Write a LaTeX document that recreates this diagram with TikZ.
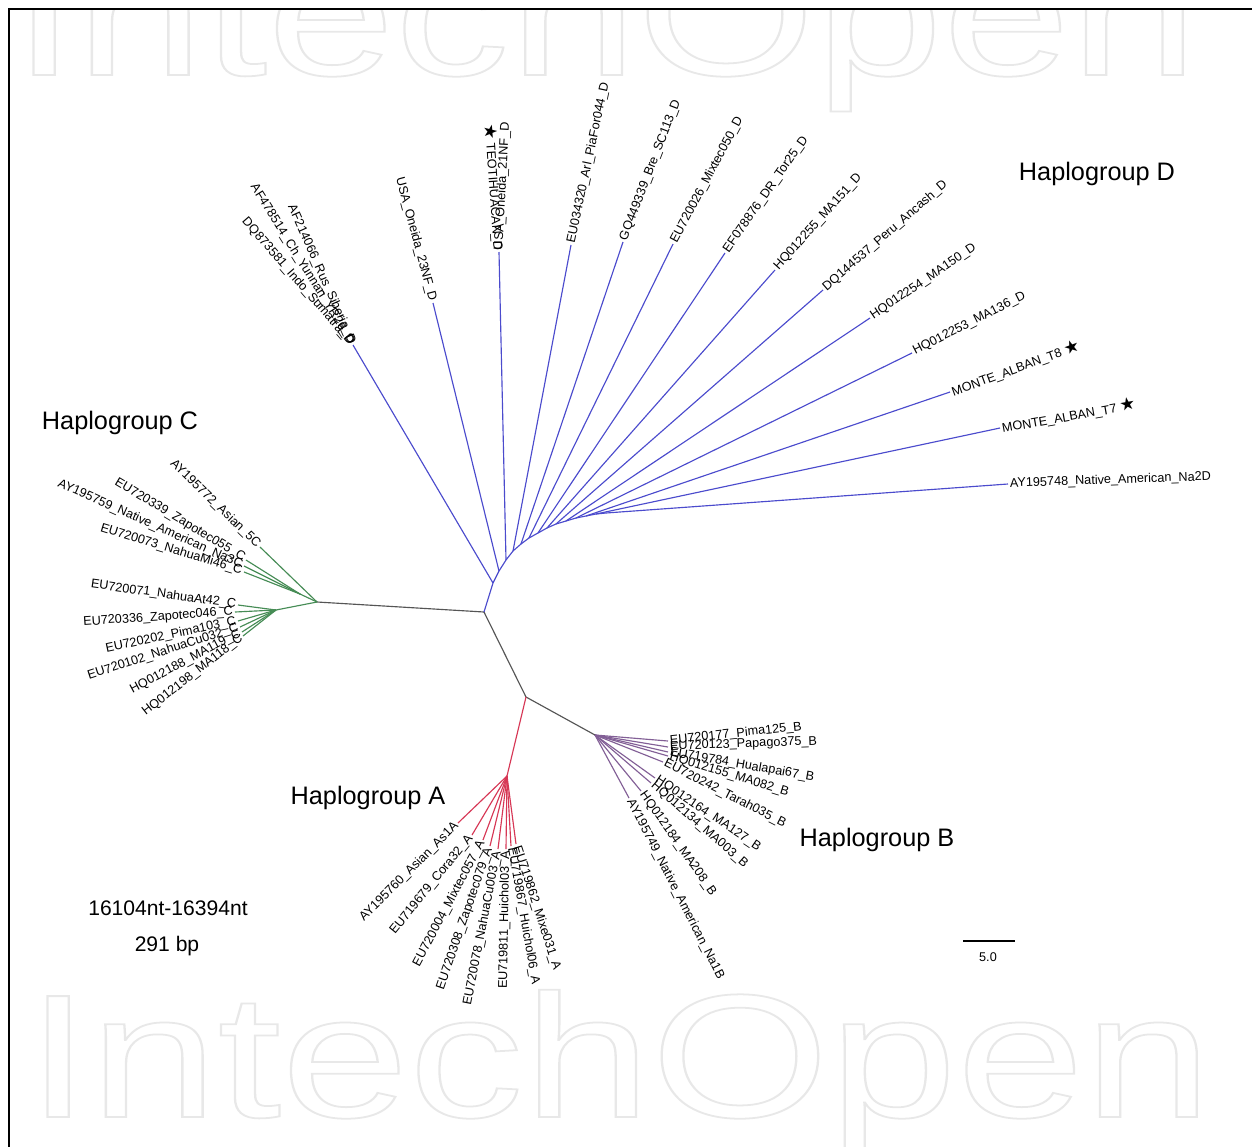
\documentclass[tikz,border=0pt]{standalone}
\usepackage{fontspec}
\setmainfont{Liberation Sans}
\newfontfamily\symf{DejaVu Sans}
\newcommand\mystar{{\symf\fontsize{10}{10}\selectfont ★}}
\newcommand\outlinetext[1]{\special{pdf:literal direct 1 Tr 1.0 w}#1\special{pdf:literal direct 0 Tr}}
\definecolor{dblue}{RGB}{75,75,205}
\definecolor{cgreen}{RGB}{70,140,85}
\definecolor{ared}{RGB}{215,55,85}
\definecolor{bpurple}{RGB}{130,95,150}
\definecolor{stem}{RGB}{85,85,85}
\begin{document}
\begin{tikzpicture}[x=0.02cm,y=-0.02cm,
  lab/.style={font=\fontsize{7.2}{8}\selectfont, inner sep=1pt},
  labR/.style={lab, anchor=west},
  labL/.style={lab, anchor=east},
  hap/.style={font=\fontsize{14.4}{16}\selectfont, inner sep=0pt},
  info/.style={font=\fontsize{12}{14}\selectfont, inner sep=0pt},
  br/.style={line width=0.65pt},
  dline/.style={br, dblue},
  cline/.style={br, cgreen},
  aline/.style={br, ared},
  bline/.style={br, bpurple},
  sline/.style={br, stem},
  wm/.style={font=\fontsize{100}{110}\selectfont, text=black!9, xscale=1.305, inner sep=0pt, anchor=base},
]
\useasboundingbox (0,0) rectangle (1252,1147);
\fill[white] (0,0) rectangle (1252,1147);
% watermark
\begin{scope}
\clip (9,9) rectangle (1252,1147);
\node[wm] (wm1) at (605,75) {\outlinetext{IntechOpen}};
\node[wm] (wm2) at (619,1117) {\outlinetext{IntechOpen}};
\end{scope}
\coordinate (fr1) at (9,1147);
\coordinate (fr2) at (9,9);
\coordinate (fr3) at (1252,9);
\draw[line width=0.9pt] (fr1) -- (fr2) -- (fr3);

% internal nodes
\coordinate (c) at (484,612);
\coordinate (m) at (526,697);
\coordinate (nC) at (317,602);
\coordinate (nC1) at (300,594);
\coordinate (nC2) at (276,610);
\coordinate (nB) at (595,735);
\coordinate (nA) at (507,776);
% D backbone
\coordinate (b1) at (493,583);
\coordinate (b2) at (499,571);
\coordinate (b3) at (506,560);
\coordinate (b4) at (513,551);
\coordinate (b5) at (521,544);
\coordinate (b6) at (529,538);
\coordinate (b7) at (538,533);
\coordinate (b8) at (547,528);
\coordinate (b9) at (556,524);
\coordinate (b10) at (566,521);
\coordinate (b11) at (576,518);
\coordinate (b12) at (586,516);
\coordinate (b13) at (596,514);
\coordinate (b14) at (606,513);
% D tips
\coordinate (tD1) at (353,345);
\coordinate (tD2) at (433,303);
\coordinate (tD3) at (499,252);
\coordinate (tD4) at (571,245);
\coordinate (tD5) at (623,242);
\coordinate (tD6) at (673,244);
\coordinate (tD7) at (725,253);
\coordinate (tD8) at (775,270);
\coordinate (tD9) at (823,290);
\coordinate (tD10) at (870,318);
\coordinate (tD11) at (912,353);
\coordinate (tD12) at (950,392);
\coordinate (tD13) at (1000,428);
\coordinate (tD14) at (1008,484);
% C tips
\coordinate (tC1) at (260,547);
\coordinate (tC2) at (246,560);
\coordinate (tC3) at (244,566);
\coordinate (tC4) at (244,572);
\coordinate (tC5) at (238,605);
\coordinate (tC6) at (235,612);
\coordinate (tC7) at (238,621);
\coordinate (tC8) at (240,627);
\coordinate (tC9) at (242,632);
\coordinate (tC10) at (243,636);
% B tips
\coordinate (tB1) at (668,741);
\coordinate (tB2) at (668,747);
\coordinate (tB3) at (668,752);
\coordinate (tB4) at (668,756);
\coordinate (tB5) at (663,762);
\coordinate (tB6) at (655,778);
\coordinate (tB7) at (651,783);
\coordinate (tB8) at (641,791);
\coordinate (tB9) at (629,798);
% A tips
\coordinate (tA1) at (458,823);
\coordinate (tA2) at (472,835);
\coordinate (tA3) at (483,840);
\coordinate (tA4) at (490,846);
\coordinate (tA5) at (498,849);
\coordinate (tA6) at (506,849);
\coordinate (tA7) at (511,846);
\coordinate (tA8) at (516,844);

% branches
\draw[sline] (nC) -- (c) -- (m) -- (nB);
\draw[dline] (c) -- (b1) -- (b2) -- (b3) -- (b4) -- (b5) -- (b6) -- (b7) -- (b8) -- (b9) -- (b10) -- (b11) -- (b12) -- (b13) -- (b14);
\foreach \i in {1,...,14} \draw[dline] (b\i) -- (tD\i);
\draw[cline] (nC) -- (tC1);
\draw[cline] (nC) -- (nC1);
\draw[cline] (nC) -- (nC2);
\foreach \i in {2,3,4} \draw[cline] (nC1) -- (tC\i);
\foreach \i in {5,...,10} \draw[cline] (nC2) -- (tC\i);
\foreach \i in {1,...,9} \draw[bline] (nB) -- (tB\i);
\draw[aline] (m) -- (nA);
\foreach \i in {1,...,8} \draw[aline] (nA) -- (tA\i);

% D labels
\node[labL, rotate=-66] (lD1a) at (tD1) {AF214066\_Rus\_Siberia\_D};
\node[labL, rotate=-58] (lD1b) at (tD1) {AF478514\_Ch\_Yunnan\_YR26\_D};
\node[labL, rotate=-49] (lD1c) at (tD1) {DQ873581\_Indo\_Sumatra\_D};
\node[labL, rotate=-75] (lD2) at (tD2) {USA\_Oneida\_23NF\_D};
\node[labL, rotate=-86] (lD3a) at (tD3) {\mystar{} TEOTIHUACAN\_D};
\node[labR, rotate=87] (lD3b) at (tD3) {USA\_Oneida\_21NF\_D};
\node[labR, rotate=78] (lD4) at (tD4) {EU034320\_Arl\_PiaFor044\_D};
\node[labR, rotate=69] (lD5) at (tD5) {GQ449339\_Bre\_SC113\_D};
\node[labR, rotate=62] (lD6) at (tD6) {EU720026\_Mixtec050\_D};
\node[labR, rotate=55] (lD7) at (tD7) {EF078876\_DR\_Tor25\_D};
\node[labR, rotate=48] (lD8) at (tD8) {HQ012255\_MA151\_D};
\node[labR, rotate=41] (lD9) at (tD9) {DQ144537\_Peru\_Ancash\_D};
\node[labR, rotate=34] (lD10) at (tD10) {HQ012254\_MA150\_D};
\node[labR, rotate=27] (lD11) at (tD11) {HQ012253\_MA136\_D};
\node[labR, rotate=20] (lD12) at (tD12) {MONTE\_ALBAN\_T8 \mystar};
\node[labR, rotate=10] (lD13) at (tD13) {MONTE\_ALBAN\_T7 \mystar};
\node[labR, rotate=2] (lD14) at (tD14) {AY195748\_Native\_American\_Na2D};

% C labels
\node[labL, rotate=-44] (lC1) at (tC1) {AY195772\_Asian\_5C};
\node[labL, rotate=-31] (lC2) at (tC2) {EU720339\_Zapotec055\_C};
\node[labL, rotate=-24] (lC3) at (tC3) {AY195759\_Native\_American\_Na3C};
\node[labL, rotate=-17] (lC4) at (tC4) {EU720073\_NahuaMi46\_C};
\node[labL, rotate=-8] (lC5) at (tC5) {EU720071\_NahuaAt42\_C};
\node[labL, rotate=4] (lC6) at (tC6) {EU720336\_Zapotec046\_C};
\node[labL, rotate=12] (lC7) at (tC7) {EU720202\_Pima103\_C};
\node[labL, rotate=18] (lC8) at (tC8) {EU720102\_NahuaCu032\_C};
\node[labL, rotate=28] (lC9) at (tC9) {HQ012188\_MA119\_C};
\node[labL, rotate=38] (lC10) at (tC10) {HQ012198\_MA118\_C};

% B labels
\node[labR, rotate=6] (lB1) at (tB1) {EU720177\_Pima125\_B};
\node[labR, rotate=2] (lB2) at (tB2) {EU720123\_Papago375\_B};
\node[labR, rotate=-10] (lB3) at (tB3) {EU719784\_Hualapai67\_B};
\node[labR, rotate=-17] (lB4) at (tB4) {HQ012155\_MA082\_B};
\node[labR, rotate=-27] (lB5) at (tB5) {EU720242\_Tarah035\_B};
\node[labR, rotate=-34] (lB6) at (tB6) {HQ012164\_MA127\_B};
\node[labR, rotate=-41] (lB7) at (tB7) {HQ012134\_MA003\_B};
\node[labR, rotate=-55] (lB8) at (tB8) {HQ012184\_MA208\_B};
\node[labR, rotate=-63] (lB9) at (tB9) {AY195749\_Native\_American\_Na1B};

% A labels
\node[labL, rotate=45] (lA1) at (tA1) {AY195760\_Asian\_As1A};
\node[labL, rotate=51] (lA2) at (tA2) {EU719679\_Cora32\_A};
\node[labL, rotate=62] (lA3) at (tA3) {EU720004\_Mixtec057\_A};
\node[labL, rotate=71] (lA4) at (tA4) {EU720308\_Zapotec079\_A};
\node[labL, rotate=79] (lA5) at (tA5) {EU720078\_NahuaCu003\_A};
\node[labL, rotate=89] (lA6) at (tA6) {EU719811\_Huichol03\_A};
\node[labR, rotate=-80] (lA7) at (tA7) {EU719867\_Huichol06\_A};
\node[labR, rotate=-72] (lA8) at (tA8) {EU719862\_Mixe031\_A};

% group labels
\node[hap] (hD) at (1097,174) {Haplogroup D};
\node[hap] (hC) at (120,423) {Haplogroup C};
\node[hap] (hA) at (368,798) {Haplogroup A};
\node[hap] (hB) at (877,840) {Haplogroup B};
\node[info] (range) at (168,908) {16104nt-16394nt};
\node[info] (bp) at (167,946) {291 bp};

% scale bar
\coordinate (s1) at (963,941);
\coordinate (s2) at (1015,941);
\draw[line width=1.3pt] (s1) -- (s2);
\node[lab] (slab) at (988,957) {5.0};
\end{tikzpicture}
\end{document}
